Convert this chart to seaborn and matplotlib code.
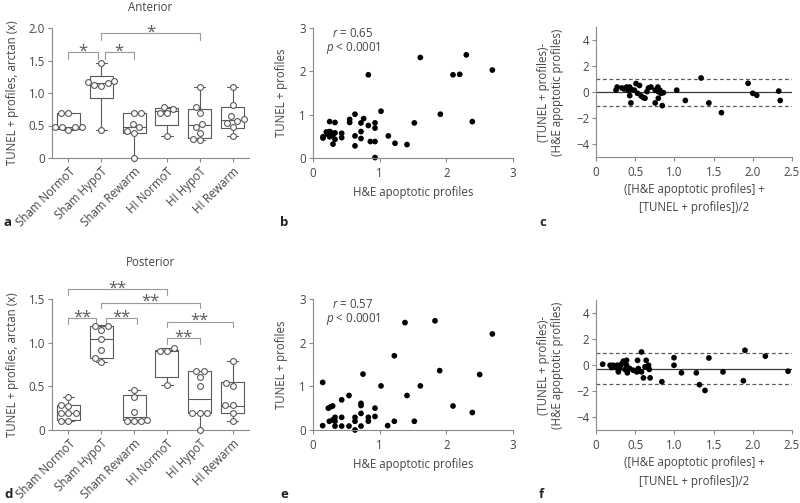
import numpy as np
import pandas as pd
import matplotlib
matplotlib.use("Agg")
import matplotlib.pyplot as plt
import seaborn as sns

# ---------------- data ----------------
groups = ["Sham NormoT", "Sham HypoT", "Sham Rewarm", "HI NormoT", "HI HypoT", "HI Rewarm"]

# Anterior individual values (arctan transformed)
ant_sham_normo = [0.70, 0.69, 0.48, 0.47, 0.43, 0.47, 0.47]
ant_sham_hypo = [1.46, 1.12, 1.18, 1.11, 1.17, 1.16, 0.43]
ant_sham_rewarm = [0.70, 0.70, 0.53, 0.41, 0.39, 0.47, 0.0]
ant_hi_normo = [0.79, 0.75, 0.70, 0.69, 0.34]
ant_hi_hypo = [1.10, 0.78, 0.69, 0.53, 0.47, 0.38, 0.27, 0.29]
ant_hi_rewarm = [1.10, 0.82, 0.64, 0.54, 0.60, 0.57, 0.48, 0.34]
# Anterior box summaries
ant_min = [0.43, 0.43, 0.0, 0.34, 0.27, 0.34]
ant_q1 = [0.45, 0.93, 0.38, 0.51, 0.31, 0.46]
ant_med = [0.48, 1.15, 0.47, 0.72, 0.51, 0.58]
ant_q3 = [0.69, 1.26, 0.69, 0.77, 0.76, 0.79]
ant_max = [0.70, 1.46, 0.70, 0.79, 1.10, 1.10]

# Posterior individual values
post_sham_normo = [0.38, 0.29, 0.28, 0.19, 0.19, 0.19, 0.10, 0.10]
post_sham_hypo = [1.19, 1.15, 1.19, 1.04, 0.92, 0.78, 0.82]
post_sham_rewarm = [0.46, 0.38, 0.21, 0.12, 0.10, 0.10, 0.10]
post_hi_normo = [0.91, 0.91, 0.94, 0.51]
post_hi_hypo = [0.675, 0.675, 0.61, 0.50, 0.20, 0.20, 0.20, 0.0]
post_hi_rewarm = [0.79, 0.54, 0.50, 0.29, 0.29, 0.20, 0.10]
post_min = [0.10, 0.78, 0.10, 0.51, 0.0, 0.10]
post_q1 = [0.12, 0.82, 0.12, 0.61, 0.20, 0.20]
post_med = [0.20, 1.04, 0.15, 0.91, 0.35, 0.28]
post_q3 = [0.29, 1.19, 0.40, 0.92, 0.675, 0.55]
post_max = [0.38, 1.20, 0.46, 0.94, 0.68, 0.79]

# Significance brackets: (x1, x2, label)
ant_brackets = [(0.0, 0.9, "*"), (1.1, 2.0, "*"), (1.0, 4.0, "*")]
ant_bracket_y = [1.63, 1.63, 1.92]
post_brackets = [(0.0, 3.0, "**"), (1.0, 4.0, "**"), (0.0, 0.85, "**"),
                 (1.15, 2.1, "**"), (3.0, 5.0, "**"), (3.0, 4.0, "**")]
post_bracket_y = [1.61, 1.458, 1.28, 1.28, 1.24, 1.05]

# Correlation scatter (anterior)
b_he = [0.15, 0.15, 0.25, 0.25, 0.25, 0.22, 0.30, 0.33, 0.33, 0.33, 0.43, 0.43, 0.55, 0.55,
        0.63, 0.63, 0.63, 0.72, 0.72, 0.72, 0.76, 0.83, 0.83, 0.86, 0.93, 0.93, 0.93, 0.93,
        1.02, 1.13, 1.23, 1.41, 1.52, 1.61, 1.91, 2.10, 2.20, 2.30, 2.39, 2.69, 0.27, 0.30,
        0.20, 0.26]
b_tunel = [0.49, 0.46, 0.84, 0.61, 0.49, 0.55, 0.32, 0.82, 0.58, 0.43, 0.57, 0.47, 0.89, 0.82,
           1.01, 0.51, 0.28, 0.81, 0.61, 0.45, 0.91, 0.75, 1.92, 0.38, 0.81, 0.69, 0.38, 0.01,
           1.08, 0.51, 0.34, 0.31, 0.81, 2.32, 1.01, 1.92, 1.93, 2.38, 0.84, 2.03, 0.55, 0.53,
           0.60, 0.60]
# Correlation scatter (posterior)
e_he = [0.145, 0.145, 0.23, 0.265, 0.295, 0.245, 0.295, 0.33, 0.33, 0.33, 0.43, 0.43, 0.43,
        0.54, 0.54, 0.63, 0.63, 0.63, 0.72, 0.72, 0.72, 0.72, 0.75, 0.83, 0.83, 0.93, 0.93,
        1.02, 1.12, 1.22, 1.22, 1.38, 1.41, 1.52, 1.61, 1.83, 1.90, 2.10, 2.39, 2.50, 2.69]
e_tunel = [0.10, 1.09, 0.50, 0.53, 0.55, 0.20, 0.23, 0.29, 0.20, 0.09, 0.69, 0.29, 0.09,
           0.79, 0.09, 0.29, 0.20, 0.0, 0.61, 0.56, 0.38, 0.09, 1.28, 0.29, 0.20, 0.50, 0.31,
           1.01, 0.10, 1.70, 0.20, 2.46, 0.79, 0.20, 1.01, 2.50, 1.36, 0.55, 0.40, 1.27, 2.20]

# Bland-Altman (anterior)
c_mean = [0.255, 0.27, 0.33, 0.36, 0.39, 0.41, 0.43, 0.455, 0.43, 0.445, 0.49, 0.51, 0.555,
          0.53, 0.575, 0.605, 0.625, 0.65, 0.67, 0.70, 0.755, 0.755, 0.775, 0.79, 0.795, 0.795,
          0.815, 0.83, 0.845, 0.86, 1.03, 1.14, 1.34, 1.44, 1.60, 1.94, 2.00, 2.05, 2.33, 2.35]
c_diff = [0.14, 0.38, 0.31, 0.23, 0.38, 0.14, 0.38, 0.18, -0.28, -0.84, 0.14, 0.65, 0.50,
          -0.10, -0.30, -0.43, -0.48, 0.03, 0.31, 0.38, 0.14, -0.84, 0.19, 0.38, 0.03, -0.48,
          0.14, -0.10, -1.05, -0.05, 0.14, -0.65, 1.08, -0.84, -1.59, 0.67, -0.10, -0.25,
          0.07, -0.65]
c_bias = -0.03
c_limits = [1.0, -1.08]
# Bland-Altman (posterior)
f_mean = [0.085, 0.18, 0.20, 0.22, 0.255, 0.27, 0.30, 0.315, 0.33, 0.35, 0.37, 0.39, 0.39,
          0.285, 0.40, 0.43, 0.475, 0.52, 0.53, 0.54, 0.58, 0.58, 0.605, 0.625, 0.64, 0.67,
          0.68, 0.69, 0.84, 0.995, 0.995, 1.09, 1.28, 1.32, 1.39, 1.44, 1.62, 1.88, 1.90,
          2.16, 2.45]
f_diff = [0.06, -0.02, -0.20, -0.02, -0.20, -0.02, -0.27, -0.02, 0.10, 0.30, -0.34, 0.36,
          -0.02, -0.53, -0.60, -0.27, -0.40, -0.53, 0.36, -0.27, 1.00, -0.53, -0.99, -0.14,
          0.36, -0.02, -0.34, -0.99, -1.29, 0.56, -0.02, -0.60, -0.60, -1.52, -1.96, 0.54,
          -0.53, -1.21, 1.13, 0.68, -0.48]
f_bias = -0.27
f_limits = [0.92, -1.44]

# ---------------- style ----------------
FS = 8.3
sns.set_theme(style="ticks")
plt.rcParams["font.family"] = ["Open Sans", "DejaVu Sans"]
plt.rcParams.update({
    "font.size": FS,
    "axes.edgecolor": "#8a8a8a",
    "axes.linewidth": 0.8,
    "xtick.color": "#8a8a8a",
    "ytick.color": "#8a8a8a",
    "xtick.labelcolor": "#454545",
    "ytick.labelcolor": "#454545",
    "xtick.labelsize": FS,
    "ytick.labelsize": FS,
    "xtick.major.size": 3,
    "ytick.major.size": 3,
    "xtick.major.width": 0.8,
    "ytick.major.width": 0.8,
    "xtick.major.pad": 3.5,
    "ytick.major.pad": 2,
    "text.color": "#454545",
    "axes.labelcolor": "#454545",
    "axes.labelsize": FS,
    "mathtext.fontset": "custom",
    "mathtext.rm": "Open Sans",
    "mathtext.it": "Open Sans:italic",
})

W, H = 800, 503
fig = plt.figure(figsize=(W / 100, H / 100), dpi=100)


def add_ax(left, right, top, bottom):
    return fig.add_axes([left / W, 1 - bottom / H, (right - left) / W, (bottom - top) / H])


ax_a = add_ax(52, 249, 28, 158)
ax_b = add_ax(313, 513, 28, 158)
ax_c = add_ax(596, 792, 27, 157)
ax_d = add_ax(52, 249, 299, 430)
ax_e = add_ax(313, 513, 299, 430)
ax_f = add_ax(596, 792, 300, 430)

GRAY = "#5a5a5a"


def box_panel(ax, pts, mins, q1s, meds, q3s, maxs, ymax, yticks, ylabels, title, title_y,
              brackets, bracket_y, leg):
    pdf = pd.DataFrame({"group": np.repeat(groups, [len(p) for p in pts]),
                        "value": np.concatenate(pts)})
    stats = np.column_stack([mins, q1s, meds, q3s, maxs])
    sdf = pd.DataFrame({"group": np.repeat(groups, 5), "value": stats.ravel()})
    sns.boxplot(data=sdf, x="group", y="value", order=groups, whis=(0, 100), fill=False,
                color=GRAY, width=0.7, linewidth=0.8, showfliers=False, ax=ax)
    sns.swarmplot(data=pdf, x="group", y="value", order=groups, size=4.2, color="white",
                  edgecolor=GRAY, linewidth=0.8, ax=ax, zorder=4)
    for coll in ax.collections:
        coll.set_clip_on(False)
    ax.set_xlim(-0.5, 5.5)
    ax.set_ylim(0, ymax)
    ax.set_yticks(yticks)
    ax.set_yticklabels(ylabels)
    ax.set_xlabel("")
    ax.set_ylabel("TUNEL + profiles, arctan (x)")
    ax.yaxis.set_label_coords(-0.168, 0.5)
    ax.set_xticks(range(len(groups)))
    ax.set_xticklabels(groups, rotation=45, ha="right", rotation_mode="anchor")
    ax.tick_params(axis="x", pad=2)
    sns.despine(ax=ax)
    ax.text(0.5, title_y, title, transform=ax.transAxes, ha="center", va="center", fontsize=FS)
    for (x1, x2, lab), yb in zip(brackets, bracket_y):
        ax.plot([x1, x1, x2, x2], [yb - leg, yb, yb, yb - leg], color="#9a9a9a", lw=0.8,
                clip_on=False)
        ax.text((x1 + x2) / 2, yb - 0.025 * ymax, lab, ha="center", va="baseline",
                fontsize=12, color=GRAY, clip_on=False)


box_panel(ax_a,
          [ant_sham_normo, ant_sham_hypo, ant_sham_rewarm, ant_hi_normo, ant_hi_hypo, ant_hi_rewarm],
          ant_min, ant_q1, ant_med, ant_q3, ant_max, 2.0,
          [0, 0.5, 1.0, 1.5, 2.0], ["0", "0.5", "1.0", "1.5", "2.0"],
          "Anterior", 1.154, ant_brackets, ant_bracket_y, 0.1)
box_panel(ax_d,
          [post_sham_normo, post_sham_hypo, post_sham_rewarm, post_hi_normo, post_hi_hypo, post_hi_rewarm],
          post_min, post_q1, post_med, post_q3, post_max, 1.5,
          [0, 0.5, 1.0, 1.5], ["0", "0.5", "1.0", "1.5"],
          "Posterior", 1.275, post_brackets, post_bracket_y, 0.065)


def corr_panel(ax, x, y, rtxt):
    sns.scatterplot(x=x, y=y, color="black", s=17, edgecolor="none", ax=ax, clip_on=False)
    ax.set_xlim(0, 3)
    ax.set_ylim(0, 3)
    ax.set_xticks([0, 1, 2, 3])
    ax.set_yticks([0, 1, 2, 3])
    ax.set_xlabel("H&E apoptotic profiles")
    ax.set_ylabel("TUNEL + profiles")
    ax.xaxis.set_label_coords(0.5, -0.215)
    ax.yaxis.set_label_coords(-0.125, 0.5)
    sns.despine(ax=ax)
    ax.text(0.2, 0.955, r"$\it{r}$ = " + rtxt, transform=ax.transAxes, ha="center", va="center")
    ax.text(0.2, 0.845, r"$\it{p}$ < 0.0001", transform=ax.transAxes, ha="center", va="center")


corr_panel(ax_b, b_he, b_tunel, "0.65")
corr_panel(ax_e, e_he, e_tunel, "0.57")


def ba_panel(ax, m, d, bias, limits):
    ax.axhline(bias, color="#3a3a3a", lw=0.9, zorder=1)
    for lim in limits:
        ax.axhline(lim, color="#5a5a5a", lw=0.9, ls=(0, (3, 2.2)), zorder=1)
    sns.scatterplot(x=m, y=d, color="black", s=17, edgecolor="none", ax=ax, zorder=3,
                    clip_on=False)
    ax.set_xlim(0, 2.5)
    ax.set_ylim(-5, 5)
    ax.set_xticks([0, 0.5, 1.0, 1.5, 2.0, 2.5])
    ax.set_xticklabels(["0", "0.5", "1.0", "1.5", "2.0", "2.5"])
    ax.set_yticks([-4, -2, 0, 2, 4])
    ax.set_yticklabels(["\u22124", "\u22122", "0", "2", "4"])
    ax.set_xlabel("([H&E apoptotic profiles] +\n[TUNEL + profiles])/2", linespacing=1.55)
    ax.set_ylabel("(TUNEL + profiles)-\n(H&E apoptotic profiles)", linespacing=1.1)
    ax.xaxis.set_label_coords(0.5, -0.2)
    ax.yaxis.set_label_coords(-0.163, 0.5)
    sns.despine(ax=ax)


ba_panel(ax_c, c_mean, c_diff, c_bias, c_limits)
ba_panel(ax_f, f_mean, f_diff, f_bias, f_limits)

for lab, (px, py) in zip("abcdef", [(4, 223), (280, 223), (539, 223), (4, 495), (280, 495), (539, 495)]):
    fig.text(px / W, 1 - py / H, lab, ha="left", va="center", fontsize=9.5, fontweight="bold",
             color="#222222")

fig.savefig("out.png", dpi=100)
